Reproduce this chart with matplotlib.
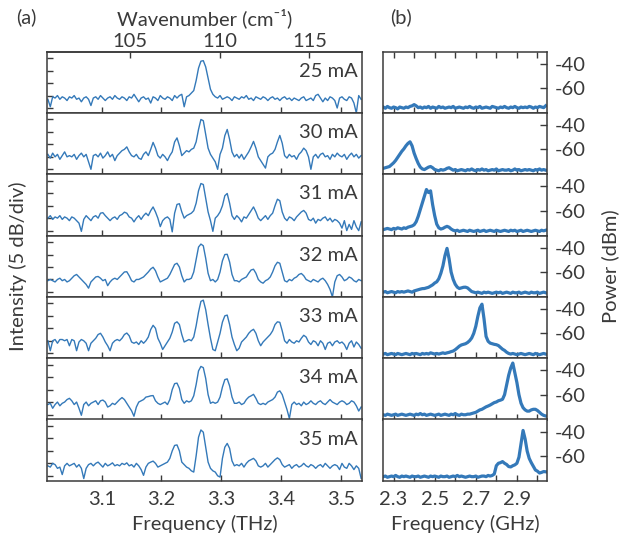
import numpy as np
import matplotlib
matplotlib.use("Agg")
import matplotlib.pyplot as plt

CURRENTS = ["25 mA", "30 mA", "31 mA", "32 mA", "33 mA", "34 mA", "35 mA"]

# THz emission spectra, dB relative to the top tick (5 dB/div),
# read off every 4 GHz starting at 3.010 THz
THZ_START, THZ_STEP = 3.010, 0.004
spec_25 = [
    -16.5, -19.5, -15.5, -16, -15, -16.5, -15.5, -16, -17, -15.5,
    -16, -15, -16.5, -16, -17.5, -16, -15.5, -16.5, -19, -16,
    -15.5, -16.5, -15, -16, -17, -16, -15.5, -16.5, -15, -16,
    -16.5, -15.5, -16, -17, -15.5, -16, -14.5, -16, -17.5, -16,
    -15.5, -16.5, -16, -18, -15.5, -16, -17, -15, -16, -16.5,
    -15.5, -16, -17, -15, -16, -15, -14.5, -19.5, -15.5, -15,
    -14, -13, -9, -4, -1.2, -1, -3.5, -8, -12.5, -14.5,
    -15.5, -16, -15, -16.5, -16, -15.5, -16, -17, -15.5, -16,
    -16.5, -15.5, -16, -15, -16.5, -16, -17, -15.5, -16, -16.5,
    -15.5, -16, -17, -16, -15.5, -16.5, -16, -17, -16, -15.5,
    -16.5, -16, -17, -16, -16.5, -17, -16, -15.5, -17, -16.5,
    -16, -17, -15, -14.5, -16, -17.5, -16, -17, -15.5, -16,
    -17, -20, -16, -15.5, -16.5, -17, -15.5, -16, -18, -22,
    -15, -16.5,
]
spec_30 = [
    -14, -15.5, -13.5, -15, -14, -16, -14.5, -13, -15, -14.5,
    -15, -14, -16, -14.5, -13.5, -15, -14, -17, -20, -14.5,
    -14, -15, -13.5, -15.5, -14.5, -13, -15, -14, -16.5, -14.5,
    -13.5, -12.5, -12, -11, -13, -14.5, -15, -14, -15.5, -16,
    -14, -13, -14.5, -12, -9.2, -11.5, -14.5, -15.5, -14, -15,
    -16.5, -14.5, -13, -9, -7.4, -10.5, -14.5, -13.5, -12.5, -13,
    -12, -11.5, -9, -4, 0, -0.5, -6, -11.5, -14, -15.5,
    -17, -20, -14, -11.5, -6.5, -4, -8, -13, -15, -14,
    -15.5, -14, -16, -14.5, -13, -11, -8.8, -11.5, -15, -16.5,
    -18, -19.5, -15, -14, -13.5, -12, -9, -6.4, -9.5, -14.5,
    -15.5, -14, -15, -14.5, -16, -14, -13, -11.5, -12.5, -15,
    -20, -15, -14, -15.5, -14, -13.5, -15, -14.5, -16, -14,
    -15, -13.5, -14.5, -15, -14, -16, -14.5, -13.5, -15, -14,
    -15.5, -14.5,
]
spec_31 = [
    -15, -14, -15.5, -14.5, -15, -14, -15.5, -14.5, -15, -16,
    -14.5, -15, -16, -17, -20.3, -15.5, -14, -15, -16, -14.5,
    -14, -15, -13, -12.8, -14, -15, -16, -15, -14.5, -15.5,
    -14, -13.5, -12.6, -13, -14.5, -15, -16.5, -15, -14, -15.5,
    -14, -13, -14, -12, -10.5, -12.5, -15, -18.4, -16, -15,
    -14.5, -15.5, -20.5, -13, -9.5, -9.2, -12.5, -15, -14, -13.5,
    -13, -12, -9, -4, -1.1, -1.5, -7, -12.5, -16, -20.3,
    -15, -14, -12.5, -10, -6, -5.1, -9, -14, -15.5, -14,
    -15, -16.5, -14.5, -15, -13.5, -12, -10.5, -12.5, -15, -16,
    -15, -14, -15.5, -14, -13, -10, -7.4, -8, -12.5, -15,
    -16, -14.5, -15, -16, -14.5, -13.5, -12.5, -11.9, -13, -15.5,
    -16, -15, -17, -15.5, -16, -15, -14.5, -16, -15, -16.5,
    -15.5, -16, -17, -19, -16, -20, -17.5, -19.5, -16, -18.5,
    -20, -16.5,
]
spec_32 = [
    -15.5, -15, -15.5, -16, -15, -14.5, -15.5, -15, -16, -15.5,
    -14.5, -13.5, -13, -14, -15, -16, -17, -18.5, -16, -15,
    -14, -13.8, -14.5, -15.5, -15, -17.5, -16, -15, -14.5, -15,
    -14, -13, -12, -11.9, -13.5, -15.5, -16, -15, -15, -14.5,
    -14, -13, -12, -10.8, -10.1, -11.5, -14, -16, -15.5, -15,
    -14.5, -13, -11, -9, -8.5, -10, -13.5, -16, -15, -15,
    -14.5, -12, -7, -2, -0.8, -1.5, -6.5, -12.5, -15.5, -15,
    -16, -15, -12, -7.5, -5, -4.9, -8, -13, -15.5, -15.5,
    -16, -15, -14.5, -14, -12.5, -11.2, -10.9, -12.5, -15, -16,
    -16.5, -15.5, -15, -14, -12, -9.5, -8.1, -8.5, -12, -15.5,
    -16, -15, -15.5, -14.5, -14, -13, -12.6, -13.5, -15, -15.5,
    -16, -15, -15.5, -16, -15, -14.5, -15.5, -17, -19, -22,
    -16, -13.5, -13, -14, -15.5, -15, -14, -14.5, -15.5, -16,
    -15, -15.5,
]
spec_33 = [
    -15, -19, -15, -14.5, -16, -14.5, -14.5, -15, -14.5, -17,
    -14.5, -15, -19, -15.5, -14.5, -15, -16, -19, -16, -15,
    -14, -12.5, -12, -13.5, -15.5, -17, -19, -16, -15, -14.5,
    -15, -14, -12.5, -11.9, -13, -15.5, -16, -15.5, -16.5, -15,
    -16, -15, -13.5, -10.5, -8.8, -10, -14, -16, -18.5, -17,
    -15.5, -14, -11.5, -8, -7.4, -8.5, -12.5, -15.5, -15, -14.5,
    -15, -13.5, -9, -3.5, 0.8, 1.3, -2.5, -8.5, -14, -18.5,
    -19, -15.5, -12, -7.5, -5, -4.7, -8.5, -13.5, -16.5, -19,
    -18, -15.5, -14.5, -13.5, -12, -11, -10.4, -12, -15, -17,
    -15.5, -14.5, -13.5, -12.5, -11, -8.5, -7.4, -7.6, -11, -15,
    -16, -14.5, -15.5, -16, -15, -15.5, -14, -12.8, -13.5, -15.5,
    -16.5, -15, -15.5, -17, -15, -16, -18.5, -16, -15.5, -17,
    -15.5, -15, -16, -15.5, -16.5, -18.5, -16, -15, -17.5, -15.5,
    -16.5, -18,
]
spec_34 = [
    -16, -15.5, -17.5, -16, -15, -16.5, -15.5, -15, -14, -13.5,
    -14.5, -16, -15, -17.5, -20.3, -16, -15, -16.5, -15.5, -15,
    -14.5, -16, -14.5, -14.2, -15, -17, -16.5, -15.5, -16, -15,
    -14, -13.2, -14, -15.5, -17, -18.5, -20.7, -17, -15, -14.5,
    -14, -13, -12.8, -12.5, -12.4, -14.5, -15.5, -16, -15.5, -15,
    -16, -14, -10, -7.6, -7.4, -9.5, -14, -15.5, -14.5, -15,
    -14.5, -12.5, -8, -2.5, -0.7, -1.2, -5.5, -12, -15.5, -15,
    -15.5, -15, -13, -9, -6, -5.7, -8.5, -13, -15.5, -15.5,
    -15, -16, -15.5, -14, -13, -12.5, -11.9, -13.5, -15.5, -16,
    -15.5, -16, -15, -14.5, -14, -13, -11, -10.5, -12, -15,
    -18, -21.6, -16, -15, -16, -15.5, -16.5, -15, -16, -15.5,
    -14.5, -15.5, -16, -15, -14.5, -15.5, -16, -15, -14, -15,
    -15.5, -16, -15, -14.5, -15, -16, -15.5, -14.5, -15, -16.5,
    -18.6, -17,
]
spec_35 = [
    -16, -16.5, -15, -15.5, -17, -16.5, -19.5, -16, -15, -16,
    -15.5, -15, -16.5, -15.5, -17, -21.1, -17, -15.5, -15, -16,
    -15, -14.5, -15.5, -16.5, -15, -16, -15.5, -14.8, -16, -15.5,
    -16, -15, -15.5, -14.8, -16, -15.5, -16.5, -15, -16, -17.5,
    -19.8, -16.5, -15, -14.5, -14.1, -15, -16.5, -16, -15.5, -15,
    -14.5, -13, -10, -7.8, -7.6, -10, -14.5, -15.5, -16.5, -17,
    -18, -18.5, -12, -4.5, -1.6, -2.5, -8.5, -14.5, -17, -18,
    -18.5, -20, -20.5, -13, -8.5, -7, -9, -14, -16, -15.5,
    -16, -15, -16.5, -15, -14, -13.5, -13, -14, -16, -16.5,
    -16, -15, -16.5, -15.5, -14.5, -13.5, -12.8, -13.5, -15.5, -16.5,
    -16, -15.5, -17, -16, -15.5, -16.5, -16, -15, -16, -16.5,
    -15.5, -16, -17, -16, -15.5, -16.5, -15, -16, -17, -16,
    -15.5, -16, -17.5, -15, -16.5, -17, -15, -16, -17.5, -16,
    -17, -21,
]

RF_START, RF_STEP = 2.25, 0.01
rf_25 = [
    -75.5, -76.5, -75, -76, -76.5, -75.5, -76, -77, -75.5, -76,
    -76.5, -75.5, -76, -75, -74.5, -73.5, -74.5, -76, -75.5, -76.5,
    -75.5, -76, -75, -76.5, -75.5, -76, -76.5, -75, -76, -75.5,
    -76.5, -76, -75.5, -76, -75, -76.5, -76, -75.5, -76, -76.5,
    -75.5, -76, -75, -76, -76.5, -75.5, -76, -75, -76.5, -76,
    -75.5, -76, -76.5, -75, -75.5, -76, -76.5, -75.5, -76, -75,
    -76, -76.5, -75.5, -76, -75, -76, -76.5, -75.5, -76, -75.5,
    -76, -75, -75.5, -76.5, -75.5, -76, -75, -75.5, -76, -74.5,
]
rf_30 = [
    -75.5, -75, -74.5, -74, -72.5, -71, -69, -66.5, -64, -61.5,
    -59.5, -57, -55, -53.7, -57, -63, -67.5, -71.5, -74.5, -76,
    -76.5, -75.5, -74.5, -74, -75, -76.5, -77, -77.5, -76.5, -77,
    -76.5, -75.5, -75, -76, -77, -76.5, -77.5, -77, -76.5, -77,
    -77.5, -76.5, -77, -76, -77, -77.5, -76.5, -77, -76, -77,
    -76.5, -77.5, -77, -76.5, -77, -76, -77.5, -77, -76.5, -77,
    -77, -76.5, -77.5, -77, -76, -77, -76.5, -77.5, -77, -76.5,
    -77, -76.5, -77, -77.5, -76.5, -77, -76, -77, -76.5, -77,
]
rf_31 = [
    -75.5, -75, -74.5, -75, -75.5, -74.5, -75, -74, -74.5, -75,
    -74, -74.5, -73.5, -73, -72.5, -71.5, -69, -64.5, -59, -53.5,
    -48, -42.5, -45, -43.6, -55, -64, -71, -74, -75, -74.5,
    -73.5, -72.8, -73.5, -75, -76, -76.5, -76, -77, -76.5, -76,
    -76.5, -77, -76, -76.5, -77, -76.5, -76, -77, -76.5, -76,
    -77, -76.5, -76, -76.5, -77, -76, -76.5, -77, -76.5, -76,
    -76.5, -77, -76, -76.5, -76, -77, -76.5, -76, -77, -76.5,
    -76, -76.5, -77, -76.5, -76, -76.5, -77, -76, -76.5, -76,
]
rf_32 = [
    -76.5, -76, -77, -76.5, -76, -76.5, -77, -76, -76.5, -76,
    -76.5, -76, -75.5, -76, -76.5, -75.5, -75, -74.5, -74, -73.6,
    -73.5, -73, -72.5, -71.5, -70.5, -69, -68, -65.5, -61, -55,
    -46.5, -40.5, -49, -60, -66, -70, -72.4, -73.5, -73, -72.5,
    -72.4, -73, -74.5, -76, -76.5, -77, -76.5, -77, -77.5, -76.5,
    -77, -76.5, -77, -77.5, -77, -76.5, -77, -76.5, -77.5, -77,
    -76.5, -77, -77.5, -76.5, -77, -77, -76.5, -77.5, -77, -76.5,
    -77, -77.5, -76.5, -77, -77, -76.5, -77.5, -77, -76.5, -77,
]
rf_33 = [
    -77, -76.5, -77.5, -77, -76.5, -77, -77.5, -76.5, -77, -77.5,
    -77, -76.5, -77, -77.5, -76.5, -77, -76.5, -77, -77.5, -76.5,
    -77, -76.5, -77, -76, -76.5, -77, -76.5, -77, -76.5, -76,
    -76.5, -76, -75.6, -75, -74.5, -73.4, -72, -70.5, -69.5, -69,
    -68.5, -67.5, -66, -63.8, -60, -54.2, -46, -39, -36, -48,
    -62.5, -66.5, -68, -68.5, -69, -69.3, -70, -71.5, -73, -74,
    -75.5, -76.5, -77, -76.5, -77, -77.5, -77, -76.5, -77, -77.5,
    -77, -76.5, -77, -77.5, -76.5, -77, -77.5, -77, -76.5, -77,
]
rf_34 = [
    -76.5, -77, -76, -76.5, -77, -76.5, -76, -77, -76.5, -76,
    -76.5, -77, -76.5, -76, -76.5, -77, -76, -76.5, -75.5, -76.5,
    -76, -77, -76.5, -76, -76.5, -77, -76.5, -76, -77, -76.5,
    -76, -76.5, -77, -76, -76.5, -75.5, -76.5, -77, -76, -76.5,
    -76.5, -76, -76, -75.5, -75, -74.5, -73.5, -72.5, -72, -71,
    -70, -69.3, -68.5, -67.5, -66.5, -66, -65, -64.5, -63.8, -60,
    -52, -44, -38, -34, -42, -50, -60, -67, -70.7, -72.5,
    -73.5, -73.5, -72.5, -72, -72, -73, -74.5, -76, -77, -77.5,
]
rf_35 = [
    -77, -76.5, -77.5, -77, -76.5, -77, -76, -77, -77.5, -76.5,
    -77, -76.5, -77, -77.5, -76.5, -77, -77, -76.5, -77.5, -77,
    -76.5, -77, -77.5, -76.5, -77, -76.5, -77, -77.5, -76.5, -77,
    -77, -76.5, -77.5, -77, -76.5, -77, -76, -77, -76.5, -77,
    -77.5, -77, -76.5, -77, -77, -76.5, -77.5, -77, -76.5, -76.5,
    -77, -76, -76.5, -76, -74.8, -68, -66, -65.5, -64.6, -66,
    -67, -68.7, -69, -68, -67.3, -66, -61, -50, -39, -46,
    -56, -62, -65.5, -68.5, -71.5, -72.5, -74, -73.5, -72.8, -73,
]

THZ_SPECTRA = [spec_25, spec_30, spec_31, spec_32, spec_33, spec_34, spec_35]
RF_SPECTRA = [rf_25, rf_30, rf_31, rf_32, rf_33, rf_34, rf_35]

THZ_TICKS = [3.1, 3.2, 3.3, 3.4, 3.5]
WAVENUMBER_TICKS = [105, 110, 115]
RF_TICKS = [2.3, 2.4, 2.5, 2.6, 2.7, 2.8, 2.9, 3.0]
RF_TICK_LABELS = ["2.3", "", "2.5", "", "2.7", "", "2.9", ""]
DB_TICKS = [0, -5, -10, -15, -20]
DBM_TICKS = [-40, -60]

THZ_TO_CM = 33.356

LINE = "#3479b9"
INK = "#3a3a3a"

plt.rcParams["font.family"] = ["Lato", "DejaVu Sans"]
plt.rcParams["font.size"] = 14.5
plt.rcParams["text.color"] = INK
plt.rcParams["axes.edgecolor"] = INK
plt.rcParams["axes.labelcolor"] = INK
plt.rcParams["xtick.color"] = INK
plt.rcParams["ytick.color"] = INK
plt.rcParams["axes.linewidth"] = 1.1


def main():
    fig = plt.figure(figsize=(6.21, 5.41), dpi=100)
    W, H = 621.0, 541.0
    top0, panel_h = 51.7, 61.3

    def box(x0, x1, k):
        top = top0 + k * panel_h
        return [x0 / W, 1 - (top + panel_h) / H, (x1 - x0) / W, panel_h / H]

    n = len(CURRENTS)
    for k in range(n):
        last = k == n - 1

        # (a) THz spectra
        ax = fig.add_axes(box(47.3, 362.3, k))
        spec = THZ_SPECTRA[k]
        f = THZ_START + THZ_STEP * np.arange(len(spec))
        ax.plot(f, spec, color=LINE, lw=1.0)
        ax.set_xlim(3.009, 3.536)
        ax.set_ylim(-22, 2.6)
        ax.set_xticks(THZ_TICKS)
        ax.set_yticks(DB_TICKS)
        ax.tick_params(direction="in", length=4, width=1, labelleft=False,
                       labelbottom=last, pad=7)
        ax.text(0.985, 0.68, CURRENTS[k], transform=ax.transAxes,
                ha="right", va="center")
        if k == 0:
            sec = ax.secondary_xaxis(
                "top", functions=(lambda x: x * THZ_TO_CM, lambda w: w / THZ_TO_CM))
            sec.set_xticks(WAVENUMBER_TICKS)
            sec.tick_params(direction="in", length=4, width=1, pad=1)
            sec.set_xlabel("Wavenumber (cm\u207b\u00b9)", labelpad=6)
        if last:
            ax.set_xlabel("Frequency (THz)", labelpad=5)

        # (b) RF spectra
        rx = fig.add_axes(box(383.3, 546.7, k))
        rf = RF_SPECTRA[k]
        g = RF_START + RF_STEP * np.arange(len(rf))
        rx.plot(g, rf, color=LINE, lw=2.3)
        rx.set_xlim(2.25, 3.045)
        rx.set_ylim(-80.4, -30)
        rx.set_xticks(RF_TICKS)
        rx.set_xticklabels(RF_TICK_LABELS if last else [""] * len(RF_TICKS))
        rx.yaxis.tick_right()
        rx.set_yticks(DBM_TICKS)
        rx.set_yticklabels([str(v) for v in DBM_TICKS])
        rx.tick_params(axis="x", direction="in", length=4, width=1,
                       top=(k == 0), pad=7)
        rx.tick_params(axis="y", direction="in", length=5, width=1, pad=6)
        if last:
            rx.set_xlabel("Frequency (GHz)", labelpad=5)

    fig.text(18 / W, 1 - 266 / H, "Intensity (5 dB/div)", rotation=90,
             ha="center", va="center")
    fig.text(610 / W, 1 - 266 / H, "Power (dBm)", rotation=90,
             ha="center", va="center")
    fig.text(26 / W, 1 - 17 / H, "(a)", ha="center", va="center")
    fig.text(401 / W, 1 - 17 / H, "(b)", ha="center", va="center")

    fig.savefig("out.png", dpi=100)
    plt.close(fig)


if __name__ == "__main__":
    main()
